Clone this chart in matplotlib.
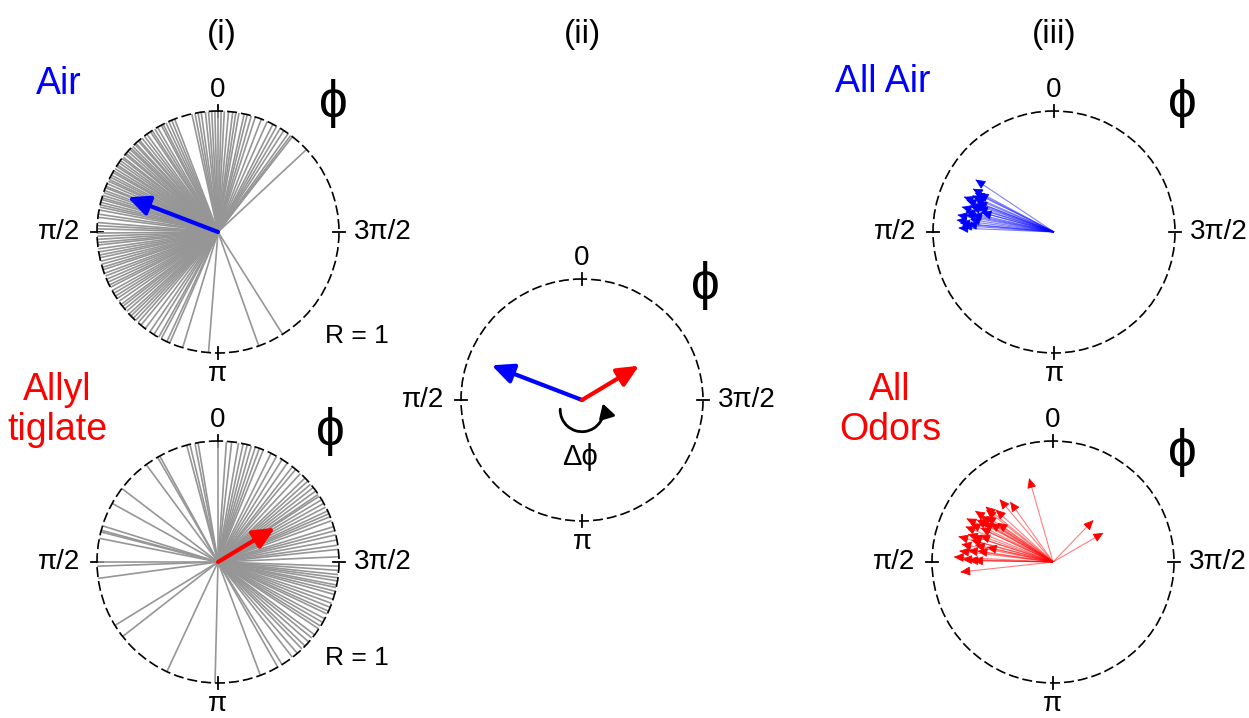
import numpy as np
import matplotlib.pyplot as plt
import matplotlib.transforms as mtransforms
from matplotlib.path import Path
from matplotlib.patches import FancyArrowPatch

plt.rcParams['font.family'] = ['Liberation Sans', 'DejaVu Sans']

W, H = 1249, 718
RAD = 121

# phase of single trials in degrees (0 at top, counter-clockwise)
air_trials = [
    -47, -38, -37, -35.5, -33, -31, -29, -27, -24, -21, -18, -16, -14, -12.5,
    -10, -8.5, -7, -5, -3, -1.5, 0, 1.5, 3, 4.5, 6, 8, 9.5, 11, 12.5,
    21, 22.5, 24, 25.5, 27, 28, 30, 31.5, 33, 34, 36, 37.5, 39,
    40.5, 41.2, 42.8, 43.5, 44.9, 46, 46.8, 48.1, 49.4, 50.2, 51.7, 52.5,
    53.8, 55, 56.3, 57.1, 58.4, 59.6, 60.5, 61.9, 63, 64.2, 65.1, 66.4,
    67.8, 68.5, 69.9, 71, 72.3, 73.5, 74.4, 75.8, 77, 78.1, 79.5,
    81.5, 83, 85.5, 87, 88.5, 90.5, 92, 93.5, 95, 96.2, 98, 99.5, 101,
    102.3, 104, 105.5, 107, 108.2, 110, 111.4, 113, 114.5, 116, 117.2, 119,
    120.5, 122, 123.4, 125, 126.8, 128, 129.5, 131, 132.7, 134, 135.5, 137,
    138.6, 140.4, 143, 145.7, 148, 150.6, 152, 155, 156.5, 163, 175.5,
    199.7, 212.3,
]
allyl_trials = [
    0, 9.5, 11, 13.4, 15, 28.8, 30, 36.4, 52.6, 61, 72.6, 74.8, 75.6,
    78.7, 90, 92, 97.8, 121.6, 128, 155, 178.6,
    -4, -6.5, -9.8, -12, -14, -16, -18, -20, -22, -26, -29, -32, -35, -38,
    -40, -43, -46, -48, -50, -52, -54, -56, -57, -59, -61, -63, -65, -66.5,
    -68, -70, -73, -75, -77, -79.5, -82, -84, -87.5,
    200.5, 209.6, 212, 218, 221, 224, 226, 228.6, 231, 233, 236.4, 238, 240,
    242, 244.5, 246, 248, 250, 252, 254.4, 256, 257.8, 259, 261, 262.5,
    264, 266, 268,
]

# mean resultant vectors (angle in degrees, length)
air_mean = (69, 0.80)
allyl_mean = (301, 0.55)

# per-fly mean vectors
all_air_angles = [56.3, 63.7, 63, 68.7, 66, 70, 69, 71, 74.8, 73, 75, 72.5,
                  77, 80, 79, 81.5, 83, 84.5, 86, 87.6, 85, 78, 67, 62]
all_air_lengths = [0.78, 0.73, 0.70, 0.80, 0.74, 0.77, 0.68, 0.71, 0.79, 0.72,
                   0.62, 0.66, 0.75, 0.81, 0.74, 0.70, 0.81, 0.78, 0.76, 0.79,
                   0.72, 0.69, 0.71, 0.76]
all_odor_angles = [15.9, 316, 300, 40.4, 35.4, 50.6, 47.6, 56.8, 63.3, 59.7,
                   55.4, 54.7, 58.2, 65, 64.8, 74.9, 71.9, 72, 79, 77.7, 77.3,
                   83.3, 82.2, 81.7, 87.1, 88.3, 88.9, 89, 96.2, 61, 68, 70,
                   52, 75, 57.5, 60.5]
all_odor_lengths = [0.72, 0.48, 0.48, 0.68, 0.61, 0.72, 0.64, 0.77, 0.80, 0.70,
                    0.67, 0.56, 0.61, 0.75, 0.66, 0.81, 0.74, 0.70, 0.77, 0.66,
                    0.56, 0.78, 0.71, 0.63, 0.82, 0.75, 0.70, 0.66, 0.77, 0.72,
                    0.78, 0.64, 0.70, 0.70, 0.71, 0.66]

tick_angles = [0, 90, 180, 270]
tick_labels = ['0', 'π/2', 'π', '3π/2']


def rect(cx, cy):
    return [(cx - RAD) / W, (H - cy - RAD) / H, 2 * RAD / W, 2 * RAD / H]


def ftext(x, y, s, **kw):
    fig.text(x / W, 1 - y / H, s, **kw)


def dial(cx, cy):
    ax = fig.add_axes(rect(cx, cy), projection='polar')
    ax.set_theta_zero_location('N')
    ax.set_theta_direction(1)
    ax.set_ylim(0, 1)
    ax.set_yticks([])
    ax.set_xticks([])
    ax.grid(False)
    ax.patch.set_visible(False)
    sp = ax.spines['polar']
    sp.set_linestyle((0, (5, 3.4)))
    sp.set_linewidth(1.2)
    offs = [(0, 15, 'center'), (-12, 0, 'right'), (0, -15, 'center'), (11, 0, 'left')]
    for a, lab, (dx, dy, ha) in zip(tick_angles, tick_labels, offs):
        t = np.deg2rad(a)
        # short radial tick crossing the unit circle
        ax.plot([t, t], [0.95, 1.05], color='k', lw=1.3, clip_on=False)
        ax.annotate(lab, xy=(t, 1), xytext=(dx, dy),
                    textcoords='offset points', ha=ha, va='center',
                    fontsize=20, annotation_clip=False)
    return ax


def mean_arrow(ax, ang, r, color):
    ax.annotate('', xy=(np.deg2rad(ang), r), xytext=(0, 0),
                arrowprops=dict(arrowstyle='-|>,head_length=0.65,head_width=0.3',
                                color=color, lw=3, shrinkA=0, shrinkB=0,
                                mutation_scale=20))


def fan(ax, angles, lengths, color):
    th = np.deg2rad(angles)
    ax.vlines(th, 0, lengths, color=color, lw=0.8, alpha=0.5)
    for t, r in zip(th, lengths):
        ax.annotate('', xy=(t, r), xytext=(t, r * 0.9),
                    arrowprops=dict(arrowstyle='-|>,head_length=0.6,head_width=0.28',
                                    color=color, lw=0.6, shrinkA=0, shrinkB=0,
                                    mutation_scale=10))


fig = plt.figure(figsize=(W / 100, H / 100), dpi=100)

# (i) single trials
ax = dial(218, 232)
ax.vlines(np.deg2rad(air_trials), 0, 1, color='#969696', lw=1.2)
mean_arrow(ax, *air_mean, 'blue')

ax = dial(218, 562)
ax.vlines(np.deg2rad(allyl_trials), 0, 1, color='#969696', lw=1.2)
mean_arrow(ax, *allyl_mean, 'red')

# (ii) phase difference between the two mean vectors
ax = dial(582, 400)
mean_arrow(ax, *air_mean, 'blue')
mean_arrow(ax, *allyl_mean, 'red')
cart = fig.add_axes(rect(582, 400), facecolor='none')
cart.set_xlim(-1, 1)
cart.set_ylim(-1, 1)
cart.axis('off')
arc_tr = mtransforms.Affine2D().scale(0.18).translate(0, -0.082) + cart.transData
cart.add_patch(FancyArrowPatch(path=Path.arc(178, 377), transform=arc_tr,
                               arrowstyle='-|>,head_length=0.6,head_width=0.35',
                               mutation_scale=14, lw=2, color='k'))

# (iii) per-fly mean vectors
ax = dial(1054, 232)
fan(ax, all_air_angles, all_air_lengths, 'blue')
ax = dial(1053, 562)
fan(ax, all_odor_angles, all_odor_lengths, 'red')

for x, s in [(222, '(i)'), (583, '(ii)'), (1054, '(iii)')]:
    ftext(x, 34, s, fontsize=24, ha='center', va='center')

ftext(59, 84, 'Air', fontsize=27, color='blue', ha='center', va='center')
ftext(57, 410, 'Allyl\ntiglate', fontsize=27, color='red', ha='center', va='center',
      linespacing=1.12)
ftext(883, 82, 'All Air', fontsize=27, color='blue', ha='center', va='center')
ftext(890, 410, 'All\nOdors', fontsize=27, color='red', ha='center', va='center',
      linespacing=1.12)

for x, y in [(333, 104), (330, 432), (705, 286), (1182, 104), (1182, 452)]:
    ftext(x, y, 'ϕ', fontsize=37, ha='center', va='center')

ftext(325, 336, 'R = 1', fontsize=19, ha='left', va='center')
ftext(325, 658, 'R = 1', fontsize=19, ha='left', va='center')
ftext(580, 457, 'Δϕ', fontsize=21, ha='center', va='center')

fig.savefig('out.png', dpi=100)
